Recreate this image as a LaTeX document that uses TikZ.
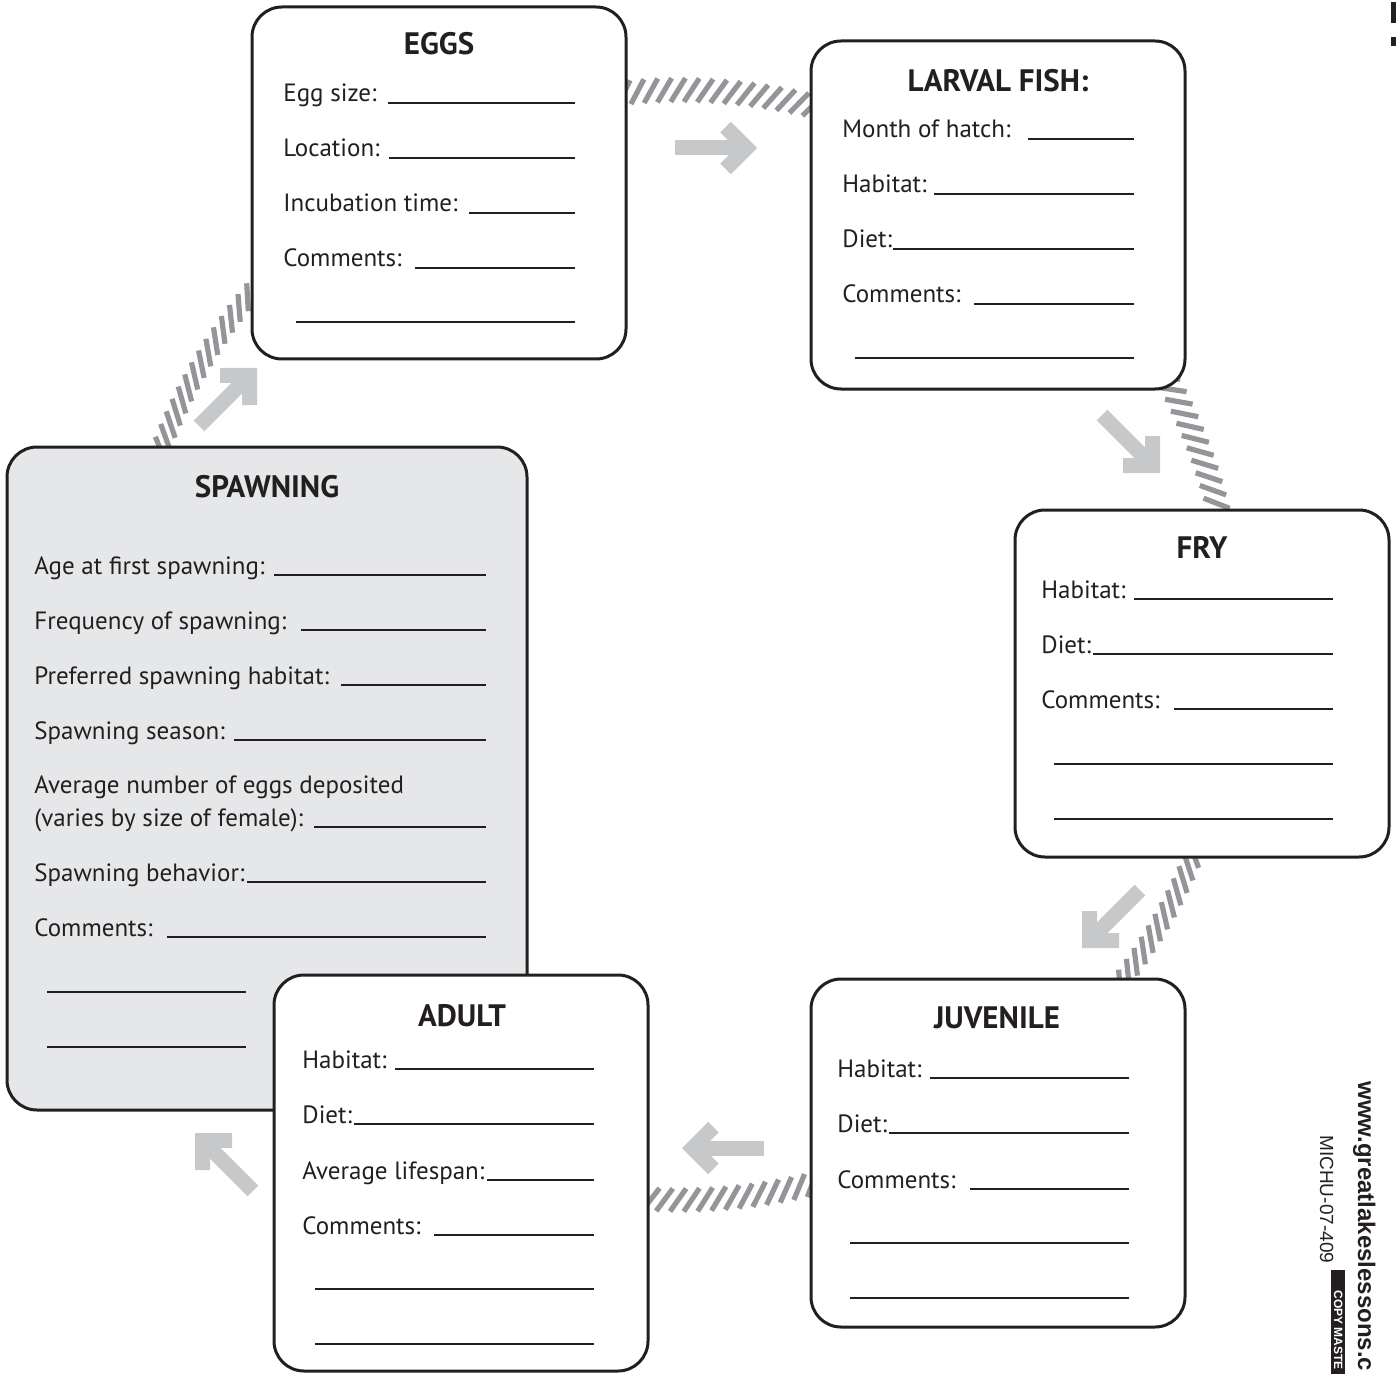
\documentclass[tikz,border=0pt]{standalone}
\usepackage{fontspec}
\setmainfont{PT Sans}
\newfontfamily\arialf{Liberation Sans}
\usetikzlibrary{calc}
\definecolor{ink}{HTML}{231F20}
\definecolor{hatchgray}{HTML}{939598}
\definecolor{arrowgray}{HTML}{C7C8CA}
\definecolor{spawnfill}{HTML}{E6E7E8}

% #1 name, #2 x, #3 baseline y, #4 text, #5 line start x, #6 line end x
\newcommand\fieldrow[6]{%
  \node[lbl] (#1) at (#2,#3) {#4};
  \draw[uline] (#5,#3+1) -- (#6,#3+1);}
% #1 start x, #2 end x, #3 y
\newcommand\blankline[3]{\draw[uline] (#1,#3) -- (#2,#3);}
% #1 tip x, #2 tip y, #3 rotation
\newcommand\fatarrow[3]{%
  \begin{scope}[shift={(#1,#2)}, rotate=#3]
    \fill[bigarrow] (0,0) -- (-26.16,-26.16) -- (-36.77,-15.56) -- (-21.21,0)
      -- (-36.77,15.56) -- (-26.16,26.16) -- cycle;
    \fill[bigarrow] (-15,-7.5) rectangle (-82,7.5);
  \end{scope}}

\begin{document}
\begin{tikzpicture}[x=0.5pt,y=-0.5pt,
  box/.style={draw=ink, line width=1.5pt, rounded corners=15pt, fill=white},
  lbl/.style={anchor=base west, inner sep=0pt, text=ink, font=\fontsize{12.5}{15}\selectfont},
  ttl/.style={anchor=base, inner sep=0pt, text=ink, font=\fontsize{15.5}{18}\selectfont\bfseries},
  uline/.style={draw=ink, line width=0.75pt},
  hatchline/.style={draw=hatchgray, line width=2.6pt},
  bigarrow/.style={fill=arrowgray},
  sidetxt/.style={rotate=-90, anchor=base west, inner sep=0pt, text=ink}]

\useasboundingbox (0,0) rectangle (1396,1374);
\coordinate (C) at (680,645);

% hatched arcs of the cycle
\foreach \st/\nn/\rr in {-100/20/-58, -33/17/-54, 18/17/-42, 72/19/-55, 195/23/-42} {
  \foreach \i in {0,...,\nn} {
    \pgfmathsetmacro\ang{\st+\i*1.4}
    \draw[hatchline] ($(C)+(\ang:555)+(\ang+90+\rr:14)$) -- ($(C)+(\ang:555)+(\ang+270+\rr:14)$);
  }
}

% big gray arrows
\fatarrow{757}{148}{0}
\fatarrow{1160}{473}{-45}
\fatarrow{1082}{948}{-135}
\fatarrow{682}{1148}{180}
\fatarrow{195}{1133}{135}
\fatarrow{257}{368}{45}

% boxes
\draw[box] (252,7) rectangle (626,359);
\draw[box] (811,41) rectangle (1185,389);
\draw[box] (1015,510) rectangle (1389,857);
\draw[box] (811,979) rectangle (1185,1327);
\draw[box, fill=spawnfill] (7,447) rectangle (527,1110);
\draw[box] (274,975) rectangle (648,1371);

% EGGS
\node[ttl] (eggsT) at (439,55) {EGGS};
\fieldrow{eggs1}{283}{102}{Egg size:}{388}{575}
\fieldrow{eggs2}{283}{157}{Location:}{389}{575}
\fieldrow{eggs3}{283}{212}{Incubation time:}{469}{575}
\fieldrow{eggs4}{283}{267}{Comments:}{415}{575}
\blankline{296}{575}{322}

% LARVAL FISH
\node[ttl] (larvT) at (998,92) {LARVAL FISH:};
\fieldrow{larv1}{842}{138}{Month of hatch:}{1028}{1134}
\fieldrow{larv2}{842}{193}{Habitat:}{934}{1134}
\fieldrow{larv3}{842}{248}{Diet:}{893}{1134}
\fieldrow{larv4}{842}{303}{Comments:}{974}{1134}
\blankline{855}{1134}{358}

% FRY
\node[ttl] (fryT) at (1202,558) {FRY};
\fieldrow{fry1}{1041}{598}{Habitat:}{1134}{1333}
\fieldrow{fry2}{1041}{653}{Diet:}{1093}{1333}
\fieldrow{fry3}{1041}{708}{Comments:}{1174}{1333}
\blankline{1054}{1333}{764}
\blankline{1054}{1333}{819}

% JUVENILE
\node[ttl] (juvT) at (997,1028) {JUVENILE};
\fieldrow{juv1}{837}{1077}{Habitat:}{930}{1129}
\fieldrow{juv2}{837}{1132}{Diet:}{889}{1129}
\fieldrow{juv3}{837}{1188}{Comments:}{970}{1129}
\blankline{850}{1129}{1243}
\blankline{850}{1129}{1298}

% ADULT
\node[ttl] (adT) at (462,1026) {ADULT};
\fieldrow{ad1}{302}{1068}{Habitat:}{395}{594}
\fieldrow{ad2}{302}{1123}{Diet:}{354}{594}
\fieldrow{ad3}{302}{1179}{Average lifespan:}{487}{594}
\fieldrow{ad4}{302}{1234}{Comments:}{434}{594}
\blankline{315}{594}{1289}
\blankline{315}{594}{1344}

% SPAWNING
\node[ttl] (spT) at (267,497) {SPAWNING};
\fieldrow{sp1}{34}{574}{Age at first spawning:}{274}{486}
\fieldrow{sp2}{34}{629}{Frequency of spawning:}{301}{486}
\fieldrow{sp3}{34}{684}{Preferred spawning habitat:}{341}{486}
\fieldrow{sp4}{34}{739}{Spawning season:}{234}{486}
\node[lbl] (sp5a) at (34,793) {Average number of eggs deposited};
\fieldrow{sp5}{34}{826}{(varies by size of female):}{314}{486}
\fieldrow{sp6}{34}{881}{Spawning behavior:}{247}{486}
\fieldrow{sp7}{34}{936}{Comments:}{167}{486}
\blankline{47}{246}{992}
\blankline{47}{246}{1047}

% side margin texts
\begin{scope}
\clip (0,0) rectangle (1396,1374);
\node[sidetxt, font=\arialf\bfseries\fontsize{12}{14}\selectfont] (url) at (1358,1081) {www.greatlakeslessons.c};
\node[sidetxt, font=\arialf\fontsize{9.5}{11}\selectfont] (code) at (1320,1135) {MICHU-07-409};
\fill[ink] (1331,1270) rectangle (1345,1380);
\node[sidetxt, text=white, font=\arialf\bfseries\fontsize{6}{7}\selectfont] (copy) at (1334,1290) {COPY MASTE};
\fill[ink] (1391,2) rectangle (1396,23);
\fill[ink] (1391,37) rectangle (1396,46);
\end{scope}
\end{tikzpicture}
\end{document}
